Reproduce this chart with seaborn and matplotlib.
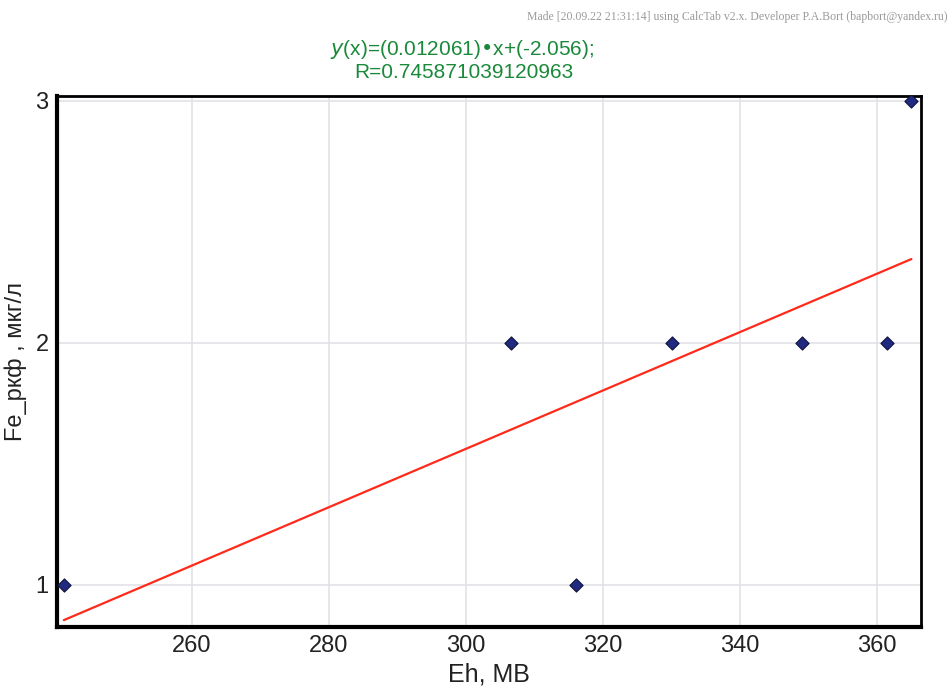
import numpy as np
import pandas as pd
import seaborn as sns
import matplotlib.pyplot as plt

# data
eh = [241.3, 306.6, 316.0, 330.1, 349.1, 361.5, 365.0]
fe = [1, 2, 1, 2, 2, 2, 3]
slope = 0.012061
intercept = -2.056
r_value = "0.745871039120963"
x_ticks = [260, 280, 300, 320, 340, 360]
y_ticks = [1, 2, 3]

sns.set_theme(style="white")
plt.rcParams['font.family'] = ['Liberation Sans', 'DejaVu Sans']

fig = plt.figure(figsize=(9.5, 6.88), dpi=100)
ax = fig.add_axes([0.06, 0.0887, 0.9095, 0.7718])

df = pd.DataFrame({"Eh": eh, "Fe": fe})
xl = np.array([min(eh), max(eh)])
line_df = pd.DataFrame({"Eh": xl, "Fe": slope * xl + intercept})
sns.lineplot(data=line_df, x="Eh", y="Fe", ax=ax, color="#ff2a1a", lw=1.6, zorder=2)
sns.scatterplot(data=df, x="Eh", y="Fe", ax=ax, marker="D", s=45,
                color="#1f2a80", edgecolor="#10143a", linewidth=0.8, zorder=3)

ax.set_xlim(240.3, 366.4)
ax.set_ylim(0.826, 3.02)
ax.set_xticks(x_ticks)
ax.set_yticks(y_ticks)
ax.grid(True, color="#e2e2e8", lw=1.2)
ax.set_axisbelow(True)
for name, s in ax.spines.items():
    s.set_color("black")
    s.set_linewidth(3 if name in ("left", "bottom") else 2)
ax.tick_params(axis="both", labelsize=17, colors="#222222", length=0, pad=6)
ax.set_xlabel("Eh, МВ", fontsize=18, color="#222222", labelpad=4)
ax.set_ylabel("Fe_ркф , мкг/л", fontsize=17, color="#222222", labelpad=6)

fig.text(0.486, 0.928, "$\\it{y}$(x)=(0.012061)•x+(-2.056);", ha="center", va="center",
         fontsize=15, color="#1a8a3a")
fig.text(0.488, 0.895, "R=" + r_value, ha="center", va="center",
         fontsize=15, color="#1a8a3a")
fig.text(0.997, 0.975, "Made [20.09.22 21:31:14] using CalcTab v2.x. Developer P.A.Bort (bapbort@yandex.ru)",
         ha="right", va="center", fontsize=8.5, color="#9a9a9a", family="Liberation Serif")

fig.savefig("out.png", dpi=100)
